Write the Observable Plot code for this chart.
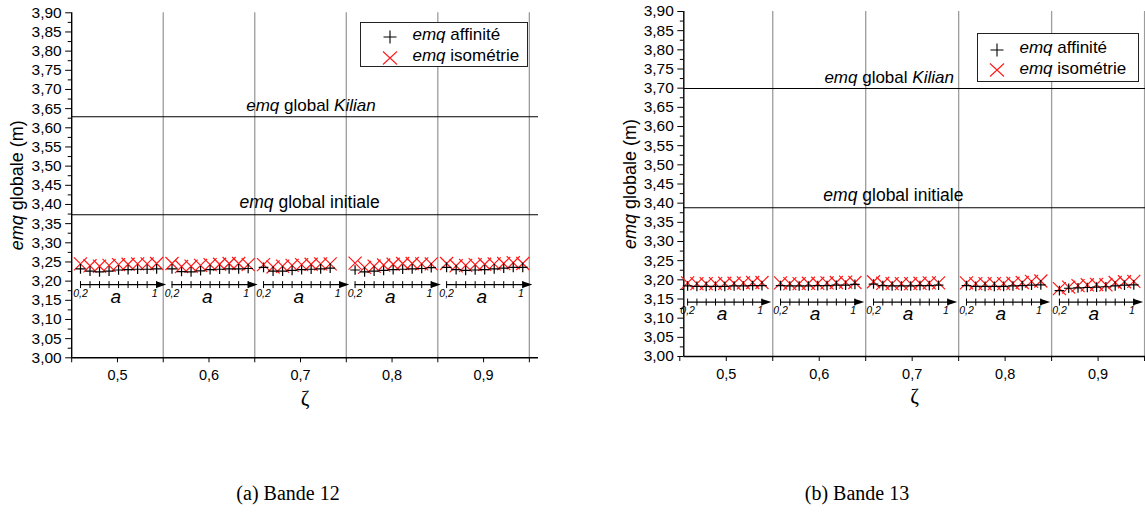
<!DOCTYPE html>
<html><head><meta charset="utf-8">
<script src="https://cdn.jsdelivr.net/npm/d3@7"></script>
<script src="https://cdn.jsdelivr.net/npm/@observablehq/plot@0.6"></script>
<style>
body{margin:0;background:#fff;}
#page{position:relative;width:1145px;height:516px;overflow:hidden;font-family:"Liberation Sans",Arial,sans-serif;background:#fff;}
.panel{position:absolute;top:0;}
.legend{position:absolute;background:#fff;border:1.5px solid #222;box-sizing:border-box;}
.legend .sym{position:absolute;}
.legend .lab{position:absolute;font-size:17px;line-height:20px;white-space:nowrap;color:#000;}
.caption{position:absolute;font-family:"Liberation Serif","Times New Roman",serif;font-size:20px;text-align:center;width:300px;color:#000;}
</style></head><body>
<div id="page">
  <div class="panel" id="pa" style="left:0px"></div>
  <div class="panel" id="pb" style="left:580px"></div>
</div>
<script>
// ---------- data ----------
const zetas = [0.5, 0.6, 0.7, 0.8, 0.9];
const aValues = [0.2, 0.3, 0.4, 0.5, 0.6, 0.7, 0.8, 0.9, 1.0];
const aEndLabels = ["0,2", "1"];
const gridZetas = [0.55, 0.65, 0.75, 0.85, 0.95];
const xTicks = [0.45, 0.5, 0.55, 0.6, 0.65, 0.7, 0.75, 0.8, 0.85, 0.9, 0.95];
const xTickLabels = ["", "0,5", "", "0,6", "", "0,7", "", "0,8", "", "0,9", ""];
const yTicks = [3.00, 3.05, 3.10, 3.15, 3.20, 3.25, 3.30, 3.35, 3.40, 3.45, 3.50, 3.55, 3.60, 3.65, 3.70, 3.75, 3.80, 3.85, 3.90];
const yTickLabels = ["3,00", "3,05", "3,10", "3,15", "3,20", "3,25", "3,30", "3,35", "3,40", "3,45", "3,50", "3,55", "3,60", "3,65", "3,70", "3,75", "3,80", "3,85", "3,90"];
const yMinorTicks = [3.025, 3.075, 3.125, 3.175, 3.225, 3.275, 3.325, 3.375, 3.425, 3.475, 3.525, 3.575, 3.625, 3.675, 3.725, 3.775, 3.825, 3.875];

// Bande 12 : one row per zeta group, values for a = 0.2 ... 1.0
const b12Affinite = [
  [3.232, 3.226, 3.224, 3.226, 3.229, 3.230, 3.231, 3.231, 3.232],
  [3.232, 3.225, 3.224, 3.227, 3.230, 3.231, 3.232, 3.232, 3.233],
  [3.236, 3.226, 3.226, 3.228, 3.230, 3.231, 3.232, 3.234],
  [3.229, 3.224, 3.226, 3.228, 3.230, 3.231, 3.232, 3.233, 3.235],
  [3.236, 3.230, 3.228, 3.229, 3.230, 3.232, 3.234, 3.236, 3.236]
];
const b12Isometrie = [
  [3.245, 3.240, 3.239, 3.241, 3.243, 3.244, 3.245, 3.245, 3.246],
  [3.246, 3.238, 3.239, 3.241, 3.243, 3.244, 3.246, 3.246, 3.243],
  [3.243, 3.237, 3.239, 3.241, 3.243, 3.244, 3.245, 3.245],
  [3.247, 3.236, 3.239, 3.242, 3.244, 3.246, 3.246, 3.245, 3.245],
  [3.246, 3.240, 3.241, 3.243, 3.244, 3.245, 3.246, 3.248, 3.246]
];
const b12Kilian = 3.629;
const b12Initiale = 3.373;

// Bande 13
const b13Affinite = [
  [3.184, 3.183, 3.183, 3.183, 3.183, 3.184, 3.184, 3.185, 3.185],
  [3.185, 3.184, 3.184, 3.184, 3.185, 3.185, 3.186, 3.186, 3.188],
  [3.189, 3.185, 3.184, 3.184, 3.184, 3.185, 3.185, 3.186],
  [3.185, 3.183, 3.183, 3.183, 3.183, 3.184, 3.185, 3.186, 3.187],
  [3.172, 3.178, 3.179, 3.180, 3.181, 3.182, 3.184, 3.186, 3.187]
];
const b13Isometrie = [
  [3.192, 3.190, 3.190, 3.190, 3.191, 3.191, 3.192, 3.193, 3.193],
  [3.192, 3.190, 3.190, 3.191, 3.191, 3.192, 3.193, 3.194, 3.193],
  [3.195, 3.191, 3.190, 3.190, 3.190, 3.191, 3.192, 3.192],
  [3.192, 3.190, 3.190, 3.190, 3.190, 3.191, 3.193, 3.196, 3.197],
  [3.177, 3.181, 3.185, 3.187, 3.188, 3.187, 3.193, 3.195, 3.196]
];
const b13Kilian = 3.699;
const b13Initiale = 3.388;

// ---------- helpers ----------
const yFmt = new Map(yTicks.map((t, i) => [t, yTickLabels[i]]));
const xFmt = new Map(xTicks.map((t, i) => [t, xTickLabels[i]]));
const vtick = {draw(ctx) { ctx.moveTo(0, -3.5); ctx.lineTo(0, 3.5); }};
const head = {draw(ctx) { ctx.moveTo(1, 0); ctx.lineTo(-9, -3.3); ctx.lineTo(-9, 3.3); ctx.closePath(); }};

// turn plain label texts into mixed italic / roman tspans
function rich(svg, full, parts) {
  svg.querySelectorAll("text").forEach(t => {
    if (t.textContent !== full) return;
    while (t.firstChild) t.removeChild(t.firstChild);
    parts.forEach(([s, it]) => {
      const ts = document.createElementNS("http://www.w3.org/2000/svg", "tspan");
      if (it) ts.setAttribute("font-style", "italic");
      ts.textContent = s;
      t.appendChild(ts);
    });
  });
}

function panel(o) {
  const aToZ = (z, a) => z + o.aOff + (a - 0.2) * o.aStep;
  const affData = [], isoData = [];
  zetas.forEach((z, g) => {
    o.aff[g].forEach((v, i) => affData.push({x: aToZ(z, aValues[i]), y: v}));
    o.iso[g].forEach((v, i) => isoData.push({x: aToZ(z, aValues[i]), y: v}));
  });
  const tickData = zetas.flatMap(z => aValues.map(a => ({x: aToZ(z, a)})));
  const iy = () => o.insetY;
  const svg = Plot.plot({
    width: o.width, height: 410,
    marginLeft: o.marginLeft, marginRight: o.marginRight, marginTop: o.marginTop, marginBottom: o.marginBottom,
    style: {fontFamily: "'Liberation Sans', Arial, sans-serif", fontSize: "13px", color: "#000", background: "white", overflow: "visible"},
    x: {domain: o.xDomain, axis: null},
    y: {domain: [3.0, 3.9], axis: null},
    marks: [
      Plot.ruleX(gridZetas, {stroke: "#9c9c9c", strokeWidth: 1.3}),
      Plot.ruleY([o.kilian, o.initiale], {stroke: "#000", strokeWidth: 1.1}),
      Plot.axisY({ticks: yTicks, tickSize: 6, tickPadding: 4, tickFormat: d => yFmt.get(d), label: null, fontSize: 15.5}),
      Plot.axisY({ticks: yMinorTicks, tickSize: 3.5, tickFormat: () => "", label: null}),
      Plot.axisX({ticks: xTicks, tickSize: 5, tickPadding: 7, tickFormat: d => xFmt.get(d), label: null, fontSize: 14.5}),
      Plot.ruleX([o.xDomain[0]], {stroke: "#000", strokeWidth: 1.4}),
      Plot.ruleY([3.0], {stroke: "#000", strokeWidth: 1.4}),
      // insets (a axes)
      Plot.ruleY(zetas, {y: iy, x1: z => aToZ(z, 0.2), x2: z => aToZ(z, 1.07), stroke: "#000", strokeWidth: 1.3}),
      Plot.dot(tickData, {x: "x", y: iy, symbol: vtick, stroke: "#000", fill: "none", strokeWidth: 1}),
      Plot.dot(zetas, {x: z => aToZ(z, 1.09), y: iy, symbol: head, fill: "#000", stroke: "none"}),
      Plot.text(zetas, {x: z => aToZ(z, 0.2), y: iy, text: () => aEndLabels[0], dy: 9, fontSize: 10.5, fontStyle: "italic"}),
      Plot.text(zetas, {x: z => aToZ(z, 0.98), y: iy, text: () => aEndLabels[1], dy: 9, fontSize: 10.5, fontStyle: "italic"}),
      Plot.text(zetas, {x: z => aToZ(z, 0.57), y: iy, text: () => "a", dy: 12, fontSize: 19, fontStyle: "italic"}),
      // markers
      Plot.dot(isoData, {x: "x", y: "y", symbol: "times", r: 6, stroke: "#ff1a1a", strokeWidth: 1.2}),
      Plot.dot(affData, {x: "x", y: "y", symbol: "plus", r: 3.2, stroke: "#000", strokeWidth: 1.2}),
      // reference labels
      Plot.text(["emq global Kilian"], {x: () => o.kilianX, y: () => o.kilian, dy: -11, fontSize: 17}),
      Plot.text(["emq global initiale"], {x: () => o.initialeX, y: () => o.initiale, dy: -12, fontSize: 17.5}),
      Plot.text(["emq globale (m)"], {frameAnchor: "left", rotate: -90, textAnchor: "middle", lineAnchor: "middle", dx: -54, fontSize: 18}),
      Plot.text(["ζ"], {frameAnchor: "bottom", lineAnchor: "middle", dy: 40, fontSize: 21, fontFamily: "'Liberation Serif', 'Times New Roman', serif", textAnchor: "middle"})
    ]
  });
  rich(svg, "emq global Kilian", [["emq", true], [" global ", false], ["Kilian", true]]);
  rich(svg, "emq global initiale", [["emq", true], [" global initiale", false]]);
  rich(svg, "emq globale (m)", [["emq", true], [" globale (m)", false]]);
  return svg;
}

document.getElementById("pa").appendChild(panel({
  width: 560, marginLeft: 71.2, marginRight: 22, marginTop: 12.3, marginBottom: 52.7,
  xDomain: [0.45, 0.96], aOff: -0.0404, aStep: 0.104,
  aff: b12Affinite, iso: b12Isometrie, kilian: b12Kilian, initiale: b12Initiale,
  insetY: 3.191, kilianX: 0.7114, initialeX: 0.7099
}));
document.getElementById("pb").appendChild(panel({
  width: 565, marginLeft: 103.3, marginRight: 0, marginTop: 11, marginBottom: 54,
  xDomain: [0.4543, 0.951], aOff: -0.0416, aStep: 0.1,
  aff: b13Affinite, iso: b13Isometrie, kilian: b13Kilian, initiale: b13Initiale,
  insetY: 3.142, kilianX: 0.6752, initialeX: 0.6798
}));

// ---------- legends & captions ----------
const legendItems = [
  {sym: "plus", pre: "emq", post: " affinité", color: "#000"},
  {sym: "times", pre: "emq", post: " isométrie", color: "#ff1a1a"}
];
function legend(left, top, w, h, symX, textX, rows) {
  const page = document.getElementById("page");
  const box = document.createElement("div");
  box.className = "legend";
  Object.assign(box.style, {left: left + "px", top: top + "px", width: w + "px", height: h + "px"});
  legendItems.forEach((it, i) => {
    const s = document.createElementNS("http://www.w3.org/2000/svg", "svg");
    s.setAttribute("class", "sym");
    s.setAttribute("width", 16); s.setAttribute("height", 16);
    s.style.left = (symX - left - 8) + "px"; s.style.top = (rows[i] - top - 8) + "px";
    const p = document.createElementNS("http://www.w3.org/2000/svg", "path");
    p.setAttribute("d", it.sym === "plus" ? "M1.5,8H14.5M8,1.5V14.5" : "M1,1.5L15,14.5M1,14.5L15,1.5");
    p.setAttribute("stroke", it.color); p.setAttribute("fill", "none"); p.setAttribute("stroke-width", "1.1");
    s.appendChild(p);
    box.appendChild(s);
    const t = document.createElement("div");
    t.className = "lab";
    t.style.left = (textX - left - 1.5) + "px"; t.style.top = (rows[i] - top - 11.5) + "px";
    t.innerHTML = `<i>${it.pre}</i>${it.post}`;
    box.appendChild(t);
  });
  page.appendChild(box);
}
legend(360, 22, 168, 45, 388.6, 413, [35.7, 56.7]);
legend(976.7, 33.3, 162.5, 48.5, 995.8, 1020, [49, 69.3]);

const captions = [["(a) Bande 12", 288], ["(b) Bande 13", 857]];
captions.forEach(([txt, cx]) => {
  const d = document.createElement("div");
  d.className = "caption";
  d.textContent = txt;
  d.style.left = (cx - 150) + "px";
  d.style.top = "482px";
  document.getElementById("page").appendChild(d);
});
</script>
</body></html>
